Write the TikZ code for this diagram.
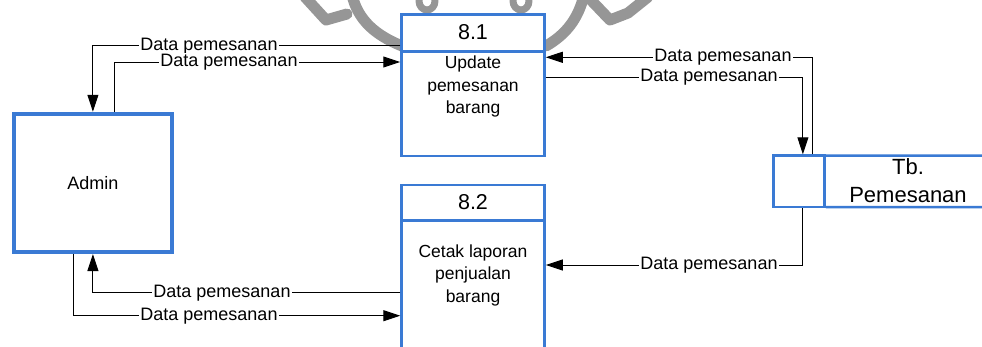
\documentclass[tikz,border=0pt]{standalone}
\usepackage{fontspec}
\setmainfont{Liberation Sans}
\usetikzlibrary{arrows.meta,calc}
\definecolor{dfdblue}{RGB}{58,122,212}
\definecolor{wmgray}{RGB}{150,150,150}
\begin{document}
\begin{tikzpicture}[x=1pt,y=-1pt,
  wm/.style={draw=wmgray,line width=11pt,line cap=round,line join=round},
  procbox/.style={draw=dfdblue,line width=2.5pt,fill=white,inner sep=0pt,minimum width=143pt},
  extbox/.style={draw=dfdblue,line width=4.5pt,fill=white,inner sep=0pt,minimum width=157.8pt,minimum height=137.8pt,font=\fontsize{18}{21}\selectfont},
  storebox/.style={draw=dfdblue,line width=2.5pt,fill=white,inner sep=0pt,minimum width=51.2pt,minimum height=51.5pt},
  blueline/.style={draw=dfdblue,line width=2.5pt},
  ptitle/.style={font=\fontsize{21.5}{24}\selectfont},
  pbody/.style={font=\fontsize{17.5}{22.5}\selectfont,align=center},
  stext/.style={font=\fontsize{22}{28.5}\selectfont,align=center},
  flow/.style={draw=black,line width=1pt,-{Triangle[length=17pt,width=11pt]}},
  lbl/.style={fill=white,inner sep=1pt,font=\fontsize{18}{20}\selectfont}]
\useasboundingbox (0,0) rectangle (982,346);
\clip (0,0) rectangle (982,346);
\fill[white] (0,0) rectangle (982,346);
% watermark
\draw[wm] (305,-3) -- (326,20) -- (347,14);
\draw[wm] (352,-5) .. controls (358,20) and (375,35) .. (402,46);
\draw[wm,line width=7pt] (427,1) ellipse [x radius=8, y radius=9];
\draw[wm,line width=7pt] (521,1) ellipse [x radius=8, y radius=9];
\draw[wm] (546,46) .. controls (565,35) and (578,20) .. (584,-5);
\draw[wm] (588,-3) -- (610,20) -- (628,13) -- (648,-3);
% nodes
\node[extbox] (admin) at (92.9,182.9) {Admin};
\node[procbox,minimum height=141.3pt] (p81) at (473,85.2) {};
\node[procbox,minimum height=195pt] (p82) at (473,282.6) {};
\node[storebox] (sid) at (798.9,181.3) {};
\draw[blueline] ($(sid.north east)+(0,1.25)$) -- (990,155.5);
\draw[blueline] ($(sid.south east)+(0,-1.25)$) -- (990,207);
\draw[blueline] (p81.west |- 0,51.7) -- (p81.east |- 0,51.7);
\draw[blueline] (p82.west |- 0,220.7) -- (p82.east |- 0,220.7);
\node[ptitle] (t81) at (473,32.5) {8.1};
\node[pbody] (b81) at (473,86.5) {Update\\pemesanan\\barang};
\node[ptitle] (t82) at (473,201.7) {8.2};
\node[pbody] (b82) at (473,275) {Cetak laporan\\penjualan\\barang};
\node[stext] (store) at (908,180.5) {Tb.\\Pemesanan};
% flows
\draw[flow] (p81.west |- 0,45.7) -| (admin.north);
\node[lbl] (l1) at (209,45.7) {Data pemesanan};
\draw[flow] ([xshift=22pt]admin.north) |- (p81.west |- 0,62);
\node[lbl] (l2) at (229,62) {Data pemesanan};
\draw[flow] ([xshift=14pt]sid.north) |- (p81.east |- 0,57.3);
\node[lbl] (l3) at (723,57.3) {Data pemesanan};
\draw[flow] (p81.east |- 0,77.3) -| ([xshift=4pt]sid.north);
\node[lbl] (l4) at (709,77.3) {Data pemesanan};
\draw[flow] ([xshift=4pt]sid.south) |- (p82.east |- 0,265);
\node[lbl] (l5) at (709,265) {Data pemesanan};
\draw[flow] (p82.west |- 0,292.7) -| (admin.south);
\node[lbl] (l6) at (222,292.7) {Data pemesanan};
\draw[flow] ([xshift=-19pt]admin.south) |- (p82.west |- 0,315.7);
\node[lbl] (l7) at (209,315.7) {Data pemesanan};
\end{tikzpicture}
\end{document}
